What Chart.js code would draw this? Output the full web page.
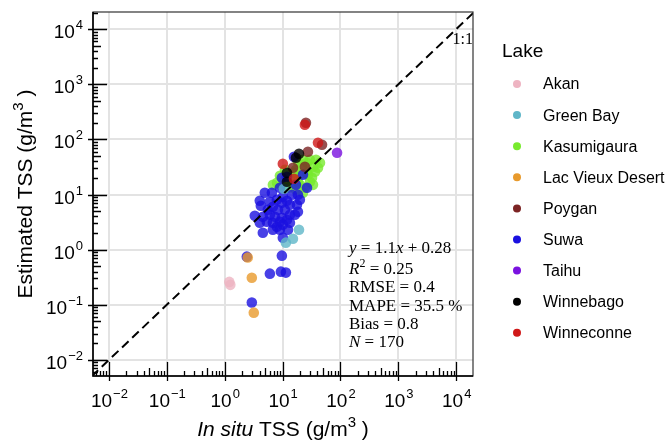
<!DOCTYPE html>
<html>
<head>
<meta charset="utf-8">
<script src="https://cdn.jsdelivr.net/npm/chart.js@4.4.1/dist/chart.umd.min.js"></script>
<style>
  html, body { margin: 0; padding: 0; background: #fff; }
</style>
</head>
<body>
<canvas id="chart" width="668" height="441"></canvas>
<script>
// lakes and their colours (legend order)
const lakes = ['Akan', 'Green Bay', 'Kasumigaura', 'Lac Vieux Desert', 'Poygan', 'Suwa', 'Taihu', 'Winnebago', 'Winneconne'];
const lakeColors = ['#eeb4c2', '#5fb6c8', '#78ea2e', '#e89a2c', '#7c2424', '#1a10e0', '#7a12e0', '#000000', '#d01818'];
// drawing order, lower = on top
const lakeOrder = [7, 5, 9, 6, 3, 8, 4, 2, 1];

// [in situ, estimated] in g/m3
const akan = [[1.2, 0.26], [1.25, 0.23]];
const greenBay = [[11.4, 1.34], [15.1, 1.58], [19.2, 2.3], [10.5, 12.7]];
const kasumigaura = [[6.8, 15.0], [8.0, 16.4], [9.0, 21.9], [11.0, 18.5], [13.4, 20.2], [14.5, 15.0], [18.4, 17.1],
  [22.5, 10.8], [21.6, 33.2], [26.4, 37.7], [33.5, 31.9], [40.9, 30.6], [29.7, 17.1], [26.4, 24.8], [36.3, 25.9],
  [32.2, 20.2], [19.9, 22.8], [17.0, 28.1], [24.3, 13.3], [17.0, 12.2], [12.4, 13.3], [9.7, 14.4], [29.7, 42.7],
  [22.5, 42.7], [44.3, 37.7], [19.9, 15.0], [27.4, 22.8], [37.8, 42.7], [15.7, 24.8], [33.5, 15.0], [11.0, 28.1], [18.4, 39.3]];
const lacVieuxDesert = [[2.5, 0.72], [2.94, 0.31], [3.18, 0.072]];
const poygan = [[48, 80], [27.4, 59.6], [15.1, 30.6], [24.3, 31.9], [25.3, 200]];
const suwa = [[2.41, 0.747], [2.94, 0.110], [6.03, 0.367], [9.35, 0.399], [11.4, 0.383], [9.72, 0.778],
  [4.93, 10.8], [6.53, 10.8], [4.04, 7.72], [4.21, 6.27], [7.96, 8.05], [6.03, 7.41], [6.79, 6.01], [9.72, 7.10],
  [11.9, 7.72], [13.4, 6.53], [17.7, 6.53], [18.4, 4.88], [3.31, 4.13], [4.56, 3.96], [6.03, 4.31], [7.36, 3.96],
  [9.72, 3.80], [13.4, 4.31], [16.3, 4.31], [4.04, 3.08], [5.34, 3.21], [6.79, 3.08], [8.98, 3.21], [11.9, 3.49],
  [7.96, 2.61], [10.1, 2.84], [13.4, 3.08], [4.56, 2.03], [6.79, 2.30], [10.1, 1.65], [8.98, 2.30], [12.4, 2.30],
  [9.72, 20.2], [15.7, 48.4], [22.5, 22.8], [26.4, 13.3], [18.4, 9.92], [10.1, 9.12], [8.98, 13.3], [11.9, 21.0],
  [14.5, 9.92], [17.0, 15.0], [19.9, 8.05], [8.29, 5.31], [10.96, 5.31], [5.56, 5.31]];
const taihu = [[87.3, 57.2]];
const winnebago = [[19.2, 54.8], [17.0, 46.4], [11.9, 24.8], [11.9, 17.1]];
const winneconne = [[24.3, 184], [40.9, 86.8], [10.1, 36.1], [15.7, 19.3]];

const lakeData = [akan, greenBay, kasumigaura, lacVieuxDesert, poygan, suwa, taihu, winnebago, winneconne];

// axis range and decade ticks (powers of ten)
const xRange = [0.0053, 19500];
const yRange = [0.0051, 20500];
const decades = [-2, -1, 0, 1, 2, 3, 4];

// text in the plot
const statLines = [
  [['y', 'i'], [' = 1.1', ''], ['x', 'i'], [' + 0.28', '']],
  [['R', 'i'], ['2', 's'], [' = 0.25', '']],
  [['RMSE = 0.4', '']],
  [['MAPE = 35.5 %', '']],
  [['Bias = 0.8', '']],
  [['N', 'i'], [' = 170', '']]
];
const oneToOne = '1:1';

function alpha(hex, a) {
  const n = parseInt(hex.slice(1), 16);
  return `rgba(${n >> 16},${(n >> 8) & 255},${n & 255},${a})`;
}

const datasets = [{
  type: 'line',
  order: 0,
  data: [{ x: 0.001, y: 0.001 }, { x: 1e5, y: 1e5 }],
  borderColor: '#000',
  borderWidth: 2,
  borderDash: [9, 5],
  pointRadius: 0,
  fill: false
}];
lakes.forEach((name, i) => {
  datasets.push({
    label: name,
    order: lakeOrder[i],
    data: lakeData[i].map(p => ({ x: p[0], y: p[1] })),
    backgroundColor: alpha(lakeColors[i], 0.8),
    borderWidth: 0,
    pointRadius: 5.3
  });
});

const SANS = '"Liberation Sans", Arial, sans-serif';
const SERIF = '"Liberation Serif", "Times New Roman", serif';

function pow10(ctx, e, x, y, align) {
  const exp = e < 0 ? '\u2212' + (-e) : String(e);
  ctx.font = '19px ' + SANS;
  const wb = ctx.measureText('10').width;
  ctx.font = '13px ' + SANS;
  const we = ctx.measureText(exp).width;
  let x0 = align === 'center' ? x - (wb + we) / 2 : x - wb - we;
  ctx.textAlign = 'left';
  ctx.font = '19px ' + SANS;
  ctx.fillText('10', x0, y);
  ctx.font = '13px ' + SANS;
  ctx.fillText(exp, x0 + wb + 1, y - 9);
}

// segments: [text, style] where style i = italic, s = superscript
function segments(ctx, segs, x, y, font, size, center) {
  const fontFor = st => (st === 'i' ? 'italic ' : '') + (st === 's' ? Math.round(size * 0.7) : size) + 'px ' + font;
  let w = 0;
  segs.forEach(([t, st]) => { ctx.font = fontFor(st); w += ctx.measureText(t).width; });
  let cx = center ? x - w / 2 : x;
  ctx.textAlign = 'left';
  segs.forEach(([t, st]) => {
    ctx.font = fontFor(st);
    ctx.fillText(t, cx, st === 's' ? y - size * 0.42 : y);
    cx += ctx.measureText(t).width;
  });
}

const decorations = {
  id: 'decorations',
  afterDraw(chart) {
    const { ctx, chartArea: a, scales: { x, y } } = chart;
    ctx.save();
    // frame
    ctx.strokeStyle = '#333';
    ctx.lineWidth = 1.2;
    ctx.strokeRect(a.left, a.top, a.right - a.left, a.bottom - a.top);
    ctx.strokeStyle = '#000';
    ctx.lineWidth = 1.5;
    ctx.beginPath();
    ctx.moveTo(a.left, a.top); ctx.lineTo(a.left, a.bottom); ctx.lineTo(a.right, a.bottom);
    ctx.stroke();

    // log ticks, pointing into the plot
    ctx.lineWidth = 1.3;
    ctx.beginPath();
    for (let e = -3; e <= 4; e++) {
      for (let m = 1; m <= 9; m++) {
        const v = m * Math.pow(10, e);
        const len = m === 1 ? 14 : (m === 5 ? 8 : 5);
        const out = m === 1 ? 5 : 0;
        if (v >= x.min && v <= x.max) {
          const px = Math.round(x.getPixelForValue(v)) + 0.5;
          ctx.moveTo(px, a.bottom + out); ctx.lineTo(px, a.bottom - len);
        }
        if (v >= y.min && v <= y.max) {
          const py = Math.round(y.getPixelForValue(v)) + 0.5;
          ctx.moveTo(a.left - out, py); ctx.lineTo(a.left + len, py);
        }
      }
    }
    ctx.stroke();

    // tick labels
    ctx.fillStyle = '#000';
    ctx.textBaseline = 'alphabetic';
    decades.forEach(e => {
      pow10(ctx, e, x.getPixelForValue(Math.pow(10, e)), 407, 'center');
      pow10(ctx, e, 82, y.getPixelForValue(Math.pow(10, e)) + 9, 'right');
    });

    // axis titles
    segments(ctx, [['In situ', 'i'], [' TSS (g/m', ''], ['3', 's'], [' )', '']], 283, 436, SANS, 21, true);
    ctx.save();
    ctx.translate(32, 194);
    ctx.rotate(-Math.PI / 2);
    segments(ctx, [['Estimated TSS (g/m', ''], ['3', 's'], [' )', '']], 0, 0, SANS, 21, true);
    ctx.restore();

    // 1:1 label and statistics
    ctx.font = '16px ' + SERIF;
    ctx.textAlign = 'right';
    ctx.fillText(oneToOne, 473, 44);
    const baselines = [253, 274, 292, 311, 329, 347];
    statLines.forEach((segs, i) => segments(ctx, segs, 349, baselines[i], SERIF, 17, false));

    // legend
    ctx.textAlign = 'left';
    ctx.font = '19px ' + SANS;
    ctx.fillText('Lake', 502, 57);
    ctx.font = '16px ' + SANS;
    ctx.textBaseline = 'middle';
    lakes.forEach((name, i) => {
      const cy = 84 + i * 31.1;
      ctx.fillStyle = lakeColors[i];
      ctx.beginPath();
      ctx.arc(517, cy, 4, 0, Math.PI * 2);
      ctx.fill();
      ctx.fillStyle = '#000';
      ctx.fillText(name, 543, cy + 1);
    });
    ctx.restore();
  }
};

const logAxis = (range) => ({
  type: 'logarithmic',
  min: range[0],
  max: range[1],
  afterFit(s) { if (s.isHorizontal()) s.height = 0; else s.width = 0; },
  afterBuildTicks(s) { s.ticks = decades.map(e => ({ value: Math.pow(10, e) })); },
  ticks: { display: false },
  grid: { color: '#e3e3e3', lineWidth: 2, drawTicks: false },
  border: { display: false }
});

new Chart(document.getElementById('chart').getContext('2d'), {
  type: 'scatter',
  data: { datasets },
  options: {
    responsive: false,
    animation: false,
    layout: { padding: { left: 93, top: 12, right: 195, bottom: 65 } },
    plugins: { legend: { display: false }, tooltip: { enabled: false } },
    scales: { x: logAxis(xRange), y: logAxis(yRange) }
  },
  plugins: [decorations]
});
</script>
</body>
</html>
